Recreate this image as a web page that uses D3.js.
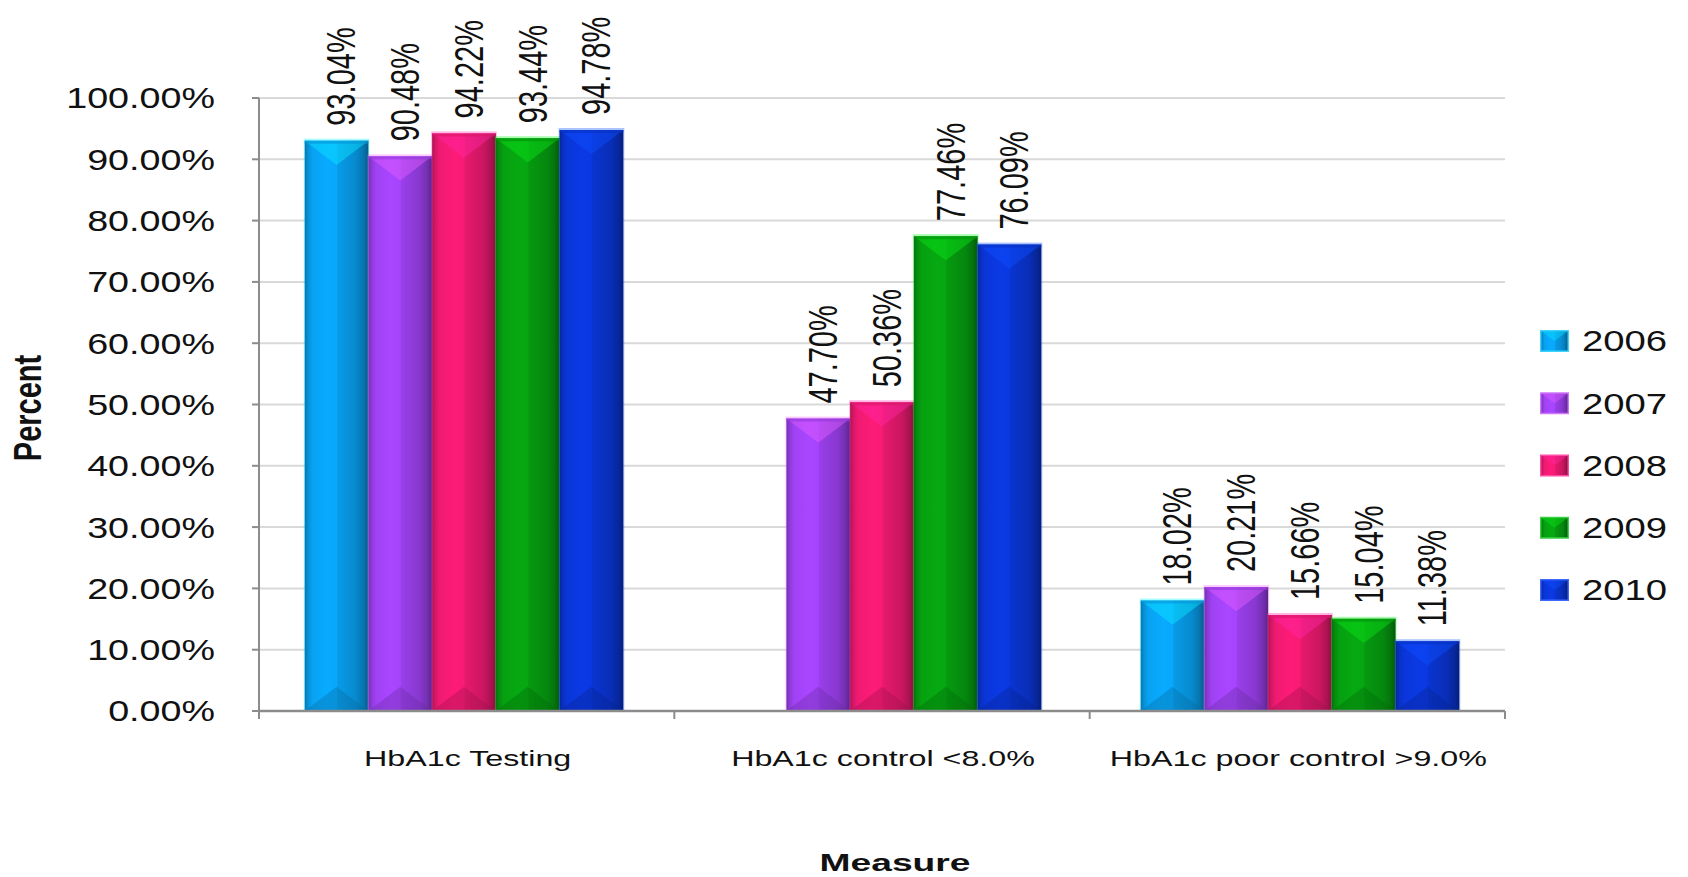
<!DOCTYPE html>
<html>
<head>
<meta charset="utf-8">
<script src="https://cdn.jsdelivr.net/npm/d3@7"></script>
<style>
  html, body { margin: 0; padding: 0; background: #ffffff; }
  svg { display: block; }
</style>
</head>
<body>
<svg id="chart" width="1688" height="877"></svg>
<script>
// ---------- data ----------
const categories = ["HbA1c Testing", "HbA1c control <8.0%", "HbA1c poor control >9.0%"];
const years = ["2006", "2007", "2008", "2009", "2010"];
const values2006 = [93.04, null, 18.02];
const values2007 = [90.48, 47.70, 20.21];
const values2008 = [94.22, 50.36, 15.66];
const values2009 = [93.44, 77.46, 15.04];
const values2010 = [94.78, 76.09, 11.38];
const yTickValues = [0, 10, 20, 30, 40, 50, 60, 70, 80, 90, 100];
const yearColors = ["#08A2F2", "#A042F4", "#F01A72", "#06A010", "#0A36D8"];
const yAxisTitle = "Percent";
const xAxisTitle = "Measure";

const seriesValues = [values2006, values2007, values2008, values2009, values2010];

// ---------- layout ----------
const plot = { left: 259, right: 1505, top: 98, bottom: 711 };
const svg = d3.select("#chart");
const defs = svg.append("defs");

const y = d3.scaleLinear().domain([0, 100]).range([plot.bottom, plot.top]);
// axis categories
const x0 = d3.scaleBand().domain(categories).range([plot.left, plot.right]).padding(0);
// bar groups (slightly wider spacing as in the source chart)
const xg = d3.scaleBand().domain(categories).range([plot.left - 4, plot.right + 4]).padding(0);
const x1 = d3.scaleBand().domain(years).range([0, xg.bandwidth()])
  .paddingInner(0).paddingOuter(0.78).align(0.5);

// ---------- gradients ----------
years.forEach((yr, i) => {
  const c = d3.color(yearColors[i]);
  const g = defs.append("linearGradient").attr("id", "grad" + yr)
    .attr("x1", "0%").attr("x2", "100%").attr("y1", "0%").attr("y2", "0%");
  const stops = [
    [0, c.darker(0.9)],
    [0.05, c.darker(0.35)],
    [0.12, c],
    [0.35, c.brighter(0.15)],
    [0.5, c.brighter(0.1)],
    [0.52, c.darker(0.12)],
    [0.8, c.darker(0.45)],
    [0.92, c.darker(0.9)],
    [1, c.darker(1.6)]
  ];
  stops.forEach(s => g.append("stop").attr("offset", s[0]).attr("stop-color", s[1].formatHex()));
});

// ---------- gridlines ----------
svg.append("g").selectAll("line").data(yTickValues.filter(v => v > 0)).join("line")
  .attr("x1", plot.left).attr("x2", plot.right)
  .attr("y1", d => y(d)).attr("y2", d => y(d))
  .attr("stroke", "#D9D9D9").attr("stroke-width", 2);

// ---------- bars ----------
const barData = [];
categories.forEach((cat, ci) => {
  years.forEach((yr, si) => {
    const v = seriesValues[si][ci];
    if (v !== null && v !== undefined) barData.push({ cat, yr, si, v });
  });
});

const bars = svg.append("g").selectAll("g").data(barData).join("g");
bars.each(function(d) {
  const g = d3.select(this);
  const x = xg(d.cat) + x1(d.yr);
  const w = x1.bandwidth();
  const top = y(d.v);
  const bot = y(0);
  const h = bot - top;
  const c = d3.color(yearColors[d.si]);
  const bev = Math.min(w * 0.38, h / 2);
  // halo
  g.append("rect").attr("x", x - 1).attr("y", top - 2).attr("width", w + 2).attr("height", h + 2)
    .attr("fill", c.brighter(1.2).formatHex()).attr("opacity", 0.35);
  g.append("rect").attr("x", x).attr("y", top).attr("width", w).attr("height", h)
    .attr("fill", `url(#grad${d.yr})`);
  // top bevel: lighter downward triangle
  g.append("path")
    .attr("d", `M${x},${top} L${x + w},${top} L${x + w / 2},${top + bev} Z`)
    .attr("fill", c.brighter(1.0).formatHex()).attr("opacity", 0.45);
  g.append("path")
    .attr("d", `M${x},${top} L${x + w},${top} L${x + w},${top + 3} L${x},${top + 3} Z`)
    .attr("fill", c.darker(0.3).formatHex()).attr("opacity", 0.6);
  // bottom bevel: darker upward triangle
  g.append("path")
    .attr("d", `M${x},${bot} L${x + w},${bot} L${x + w / 2},${bot - bev} Z`)
    .attr("fill", c.darker(1.2).formatHex()).attr("opacity", 0.35);
});

// ---------- data labels ----------
const labelScaleX = 1.42;
svg.append("g").selectAll("text").data(barData).join("text")
  .attr("transform", d => {
    const cx = xg(d.cat) + x1(d.yr) + x1.bandwidth() / 2 + 4;
    return `translate(${cx},${y(d.v) - 15}) scale(${labelScaleX},1) rotate(-90)`;
  })
  .attr("dy", "0.36em")
  .attr("text-anchor", "start")
  .attr("font-family", "'Liberation Sans', Arial, sans-serif")
  .attr("font-size", 29)
  .attr("fill", "#111")
  .text(d => d.v.toFixed(2) + "%");

// ---------- axes ----------
const axisColor = "#8C8C8C";
// y axis line + ticks
svg.append("line").attr("x1", plot.left).attr("x2", plot.left)
  .attr("y1", plot.top).attr("y2", plot.bottom)
  .attr("stroke", axisColor).attr("stroke-width", 2);
svg.append("g").selectAll("line").data(yTickValues).join("line")
  .attr("x1", plot.left - 7).attr("x2", plot.left)
  .attr("y1", d => y(d)).attr("y2", d => y(d))
  .attr("stroke", axisColor).attr("stroke-width", 2);
// y tick labels
svg.append("g").selectAll("text").data(yTickValues).join("text")
  .attr("transform", d => `translate(215,${y(d)}) scale(1.3,1)`)
  .attr("dy", "0.36em")
  .attr("text-anchor", "end")
  .attr("font-family", "'Liberation Sans', Arial, sans-serif")
  .attr("font-size", 29)
  .attr("fill", "#111")
  .text(d => d.toFixed(2) + "%");

// x axis line + ticks
svg.append("line").attr("x1", plot.left).attr("x2", plot.right)
  .attr("y1", plot.bottom).attr("y2", plot.bottom)
  .attr("stroke", axisColor).attr("stroke-width", 2.5);
const xBoundaries = categories.map(c => x0(c)).concat([x0.range()[1]]);
svg.append("g").selectAll("line").data(xBoundaries).join("line")
  .attr("x1", d => d).attr("x2", d => d)
  .attr("y1", plot.bottom).attr("y2", plot.bottom + 8)
  .attr("stroke", axisColor).attr("stroke-width", 2);
// category labels
svg.append("g").selectAll("text").data(categories).join("text")
  .attr("transform", d => `translate(${x0(d) + x0.bandwidth() / 2 + 1},766) scale(1.5,1)`)
  .attr("text-anchor", "middle")
  .attr("font-family", "'Liberation Sans', Arial, sans-serif")
  .attr("font-size", 21.5)
  .attr("fill", "#111")
  .text(d => d);

// axis titles
svg.append("text")
  .attr("transform", `translate(895,871) scale(1.55,1)`)
  .attr("text-anchor", "middle")
  .attr("font-family", "'Liberation Sans', Arial, sans-serif")
  .attr("font-weight", "bold")
  .attr("font-size", 24)
  .attr("fill", "#111")
  .text(xAxisTitle);
svg.append("text")
  .attr("transform", `translate(27,408) scale(1.35,1) rotate(-90)`)
  .attr("dy", "0.36em")
  .attr("text-anchor", "middle")
  .attr("font-family", "'Liberation Sans', Arial, sans-serif")
  .attr("font-weight", "bold")
  .attr("font-size", 29)
  .attr("fill", "#111")
  .text(yAxisTitle);

// ---------- legend ----------
const legendY = d3.scalePoint().domain(years).range([341, 590]);
const legend = svg.append("g").selectAll("g").data(years).join("g")
  .attr("transform", d => `translate(1540,${legendY(d)})`);
legend.each(function(d, i) {
  const g = d3.select(this);
  const c = d3.color(yearColors[i]);
  g.append("rect").attr("x", 0).attr("y", -11).attr("width", 29).attr("height", 22)
    .attr("fill", c.brighter(0.6).formatHex()).attr("opacity", 0.8);
  g.append("rect").attr("x", 1.5).attr("y", -9.5).attr("width", 26).attr("height", 19)
    .attr("fill", `url(#grad${d})`);
  g.append("path").attr("d", "M1.5,-9.5 L27.5,-9.5 L14.5,0 Z")
    .attr("fill", c.brighter(1).formatHex()).attr("opacity", 0.4);
  g.append("text")
    .attr("transform", "translate(42,0) scale(1.32,1)")
    .attr("dy", "0.36em")
    .attr("font-family", "'Liberation Sans', Arial, sans-serif")
    .attr("font-size", 29)
    .attr("fill", "#111")
    .text(d);
});
</script>
</body>
</html>
